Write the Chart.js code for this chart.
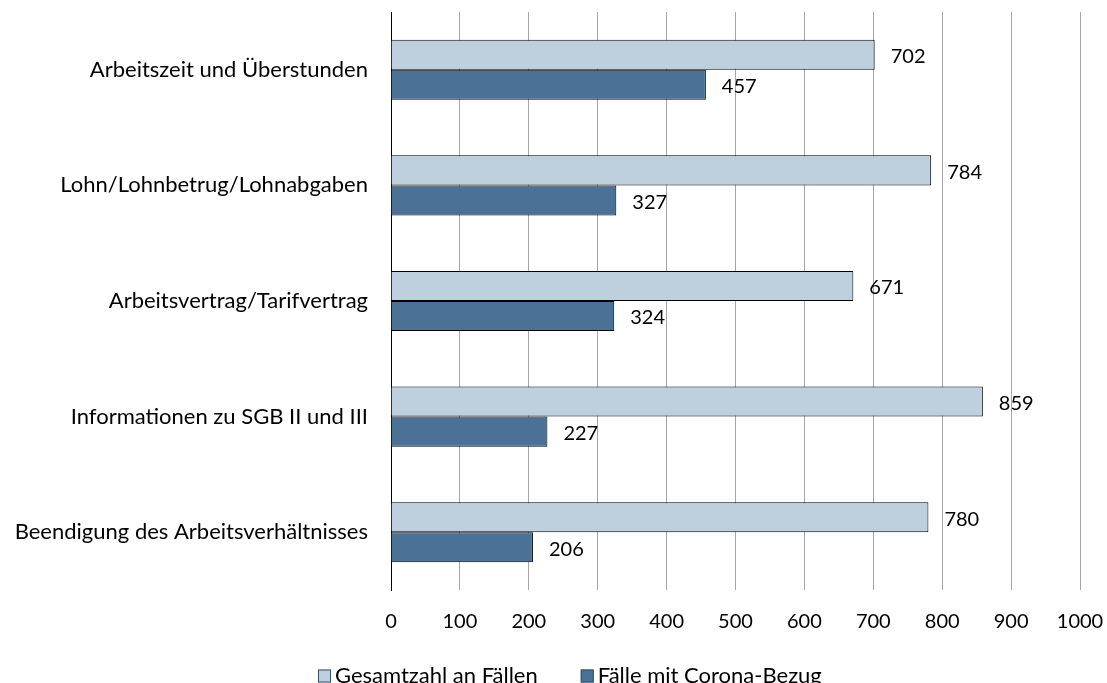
<!DOCTYPE html>
<html>
<head>
<meta charset="utf-8">
<script src="https://cdn.jsdelivr.net/npm/chart.js@4.4.0/dist/chart.umd.min.js"></script>
<style>
  html, body { margin: 0; padding: 0; background: #fff; overflow: hidden; }
  #wrap { width: 1107px; height: 696px; position: relative; }
</style>
</head>
<body>
<div id="wrap"><canvas id="chart"></canvas></div>
<script>
// Beratungsthemen: Fälle gesamt vs. Fälle mit Corona-Bezug
const categories = [
  'Arbeitszeit und Überstunden',
  'Lohn/Lohnbetrug/Lohnabgaben',
  'Arbeitsvertrag/Tarifvertrag',
  'Informationen zu SGB II und III',
  'Beendigung des Arbeitsverhältnisses'
];
const totalCases = [702, 784, 671, 859, 780];
const coronaCases = [457, 327, 324, 227, 206];
const seriesNames = ['Gesamtzahl an Fällen', 'Fälle mit Corona-Bezug'];
const xTicks = [0, 100, 200, 300, 400, 500, 600, 700, 800, 900, 1000];

const colors = {
  light: '#bed0de',
  dark: '#4b7196',
  border: '#000000',
  grid: '#a6a6a6',
  text: '#000000'
};

const FONT = 'Lato, "Liberation Sans", sans-serif';
const TEXT_SIZE = 22;   // category names, legend
const NUM_SIZE = 20;    // tick and value numbers

// value labels right of each bar
const valueLabels = {
  id: 'valueLabels',
  afterDatasetsDraw(chart) {
    const ctx = chart.ctx;
    ctx.save();
    ctx.font = `${NUM_SIZE}px ${FONT}`;
    ctx.fillStyle = colors.text;
    ctx.textBaseline = 'middle';
    ctx.textAlign = 'left';
    chart.data.datasets.forEach((ds, i) => {
      chart.getDatasetMeta(i).data.forEach((bar, j) => {
        ctx.fillText(String(ds.data[j]), bar.x + 16, bar.y + 2);
      });
    });
    ctx.restore();
  }
};

// legend below the axis
const bottomLegend = {
  id: 'bottomLegend',
  afterDraw(chart) {
    const ctx = chart.ctx;
    ctx.save();
    ctx.font = `${TEXT_SIZE}px ${FONT}`;
    ctx.textBaseline = 'middle';
    const box = 13, gapText = 4, gapItems = 43;
    const widths = seriesNames.map(n => box + gapText + ctx.measureText(n).width);
    const total = widths[0] + gapItems + widths[1];
    let x = Math.round(chart.width / 2 + 16 - total / 2);
    const y = 676;
    chart.data.datasets.forEach((ds, i) => {
      ctx.fillStyle = ds.backgroundColor;
      ctx.fillRect(x, y - box / 2, box, box);
      ctx.strokeStyle = '#2f4f6f';
      ctx.lineWidth = 1;
      ctx.strokeRect(x + 0.5, y - box / 2 + 0.5, box - 1, box - 1);
      ctx.fillStyle = colors.text;
      ctx.fillText(seriesNames[i], x + box + gapText, y);
      x += widths[i] + gapItems;
    });
    ctx.restore();
  }
};

new Chart(document.getElementById('chart'), {
  type: 'bar',
  data: {
    labels: categories,
    datasets: [
      {
        label: seriesNames[0],
        data: totalCases,
        backgroundColor: colors.light,
        borderColor: colors.border,
        borderWidth: 1
      },
      {
        label: seriesNames[1],
        data: coronaCases,
        backgroundColor: colors.dark,
        borderColor: colors.border,
        borderWidth: 1
      }
    ]
  },
  options: {
    indexAxis: 'y',
    responsive: true,
    maintainAspectRatio: false,
    animation: false,
    layout: { padding: { top: 12, right: 27, left: 0, bottom: 42 } },
    datasets: {
      bar: { categoryPercentage: 0.52, barPercentage: 1.0 }
    },
    scales: {
      x: {
        min: 0,
        max: 1000,
        afterBuildTicks(axis) {
          axis.ticks = xTicks.map(v => ({ value: v }));
        },
        afterFit(axis) {
          axis.paddingLeft = 0;
          axis.paddingRight = 0;
        },
        grid: { color: colors.grid, lineWidth: 1, drawTicks: false },
        border: { display: false },
        ticks: {
          color: colors.text,
          font: { family: FONT, size: NUM_SIZE },
          padding: 20,
          callback: v => String(v)
        }
      },
      y: {
        grid: { display: false },
        border: { display: true, color: '#000', width: 1 },
        afterFit(axis) {
          axis.width = 391;
          axis.paddingTop = 0;
          axis.paddingBottom = 0;
        },
        ticks: {
          color: colors.text,
          font: { family: FONT, size: TEXT_SIZE },
          padding: 15
        }
      }
    },
    plugins: {
      legend: { display: false },
      tooltip: { enabled: false }
    }
  },
  plugins: [valueLabels, bottomLegend]
});
</script>
</body>
</html>
